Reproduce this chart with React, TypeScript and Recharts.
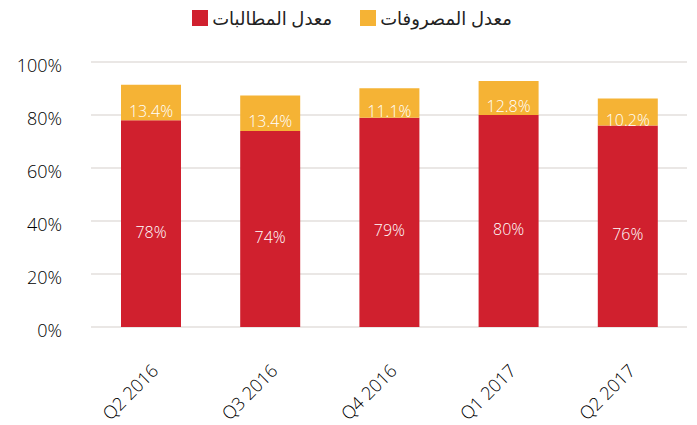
import React from 'react';
import { BarChart, Bar, XAxis, YAxis, CartesianGrid, Legend, LabelList } from 'recharts';

const categories = ['Q2 2016', 'Q3 2016', 'Q4 2016', 'Q1 2017', 'Q2 2017'];
const claimsRate = [78, 74, 79, 80, 76];
const expenseRate = [13.4, 13.4, 11.1, 12.8, 10.2];
const yTicks = [0, 20, 40, 60, 80, 100];
const claimsName = 'معدل المطالبات';
const expenseName = 'معدل المصروفات';
const legendOrder = [claimsName, expenseName];

const RED = '#d0202e';
const ORANGE = '#f5b335';
const FONT = '"Open Sans", "DejaVu Sans", sans-serif';

const data = categories.map((c, i) => ({ name: c, claims: claimsRate[i], expense: expenseRate[i] }));

const XTick = (props: any) => {
  const { x, y, payload } = props;
  return (
    <g transform={`translate(${x + 9},${y + 37})`}>
      <text x={0} y={0} transform="rotate(-45)" textAnchor="end" fill="#000" fontSize={18} fontWeight={300} fontFamily={FONT}>
        {payload.value}
      </text>
    </g>
  );
};

const YTick = (props: any) => {
  const { x, y, payload } = props;
  return (
    <text x={x - 21} y={y + 4} dy="0.355em" textAnchor="end" fill="#000" fontSize={18} fontWeight={300} fontFamily={FONT}>
      {payload.value + '%'}
    </text>
  );
};

const makeLabel = (decimals: number) => (props: any) => {
  const { x, y, width, height, value } = props;
  return (
    <text
      x={x + width / 2}
      y={y + height / 2 + 8}
      dominantBaseline="central"
      textAnchor="middle"
      fill="#ffffff"
      fontSize={16}
      fontWeight={300}
      fontFamily={FONT}
    >
      {Number(value).toFixed(decimals) + '%'}
    </text>
  );
};

const LegendContent = (props: any) => {
  const payload = [...(props.payload || [])].sort(
    (a: any, b: any) => legendOrder.indexOf(a.value) - legendOrder.indexOf(b.value)
  );
  return (
    <div
      style={{
        display: 'flex',
        direction: 'ltr',
        justifyContent: 'center',
        alignItems: 'center',
        height: 36,
        paddingLeft: 17,
        fontFamily: FONT,
        fontSize: 18,
        color: '#222',
      }}
    >
      {payload.map((p: any, i: number) => (
        <div key={i} style={{ display: 'flex', alignItems: 'center', marginLeft: i > 0 ? 28 : 0 }}>
          <span style={{ display: 'inline-block', width: 16, height: 16, background: p.color, marginRight: 4 }} />
          <span>{p.value}</span>
        </div>
      ))}
    </div>
  );
};

export default function App() {
  return (
    <div style={{ position: 'absolute', left: 0, top: 0, background: '#fff' }}>
      <BarChart width={697} height={425} data={data} margin={{ top: 26, right: 10, bottom: 0, left: 0 }}>
        <CartesianGrid vertical={false} stroke="#e3dfdc" strokeWidth={1.5} />
        <Legend verticalAlign="top" wrapperStyle={{ top: 0 }} height={36} content={<LegendContent />} />
        <XAxis dataKey="name" axisLine={false} tickLine={false} height={98} tick={<XTick />} interval={0} />
        <YAxis
          domain={[0, 100]}
          ticks={yTicks}
          axisLine={false}
          tickLine={false}
          width={91}
          tick={<YTick />}
        />
        <Bar dataKey="claims" name={claimsName} stackId="a" fill={RED} barSize={60} isAnimationActive={false}>
          <LabelList dataKey="claims" content={makeLabel(0)} />
        </Bar>
        <Bar dataKey="expense" name={expenseName} stackId="a" fill={ORANGE} barSize={60} isAnimationActive={false}>
          <LabelList dataKey="expense" content={makeLabel(1)} />
        </Bar>
      </BarChart>
    </div>
  );
}
